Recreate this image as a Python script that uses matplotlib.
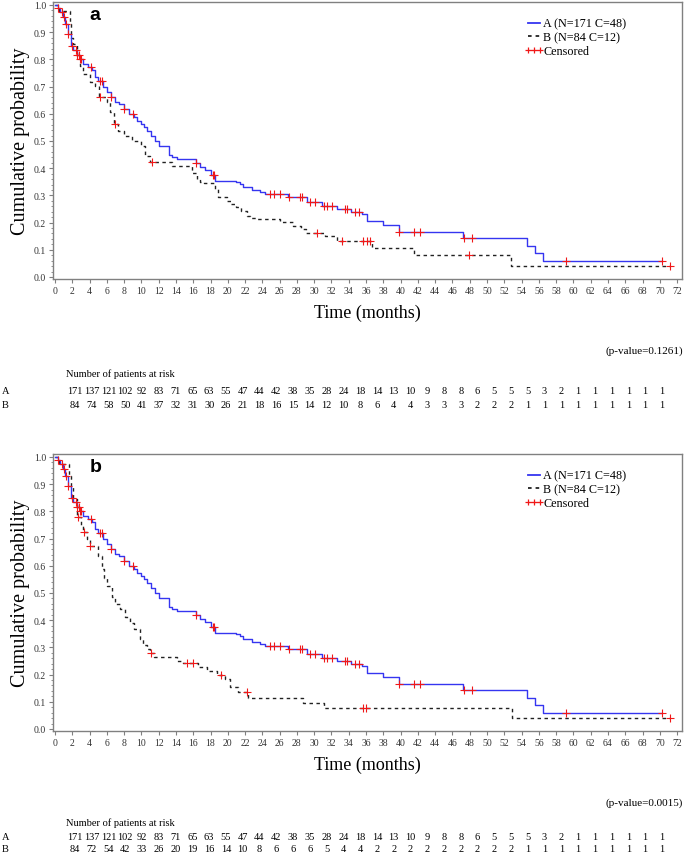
import matplotlib
matplotlib.use("Agg")
import matplotlib.pyplot as plt
from matplotlib.lines import Line2D
from matplotlib.legend_handler import HandlerLine2D
from matplotlib.ticker import MultipleLocator, FormatStrFormatter
import numpy as np

# Kaplan-Meier step curves (time in months, survival after step)
a_time = [0, 0.3, 0.6, 0.9, 1.2, 1.5, 1.8, 2.1, 2.5, 2.9, 3.3, 3.8, 4.3, 4.6, 5.0, 5.5, 6.0, 6.5, 7.0, 7.4,
          8.0, 8.6, 9.1, 9.5, 9.9, 10.3, 10.7, 11.1, 11.6, 12.0, 13.2, 13.6, 14.1, 16.3, 16.8, 17.4, 18.1, 18.5,
          20.9, 21.4, 21.8, 22.8, 23.7, 24.3, 27.0, 29.2, 30.9, 32.6, 34.3, 35.5, 36.1, 38.0, 39.8, 47.2,
          54.6, 55.6, 56.5, 70.3]
a_surv = [1.0, 0.99, 0.975, 0.955, 0.93, 0.893, 0.85, 0.835, 0.815, 0.80, 0.783, 0.772, 0.76, 0.734, 0.72,
          0.70, 0.679, 0.66, 0.645, 0.636, 0.618, 0.60, 0.587, 0.575, 0.563, 0.55, 0.538, 0.52, 0.50, 0.482,
          0.45, 0.44, 0.435, 0.42, 0.403, 0.392, 0.375, 0.352, 0.348, 0.342, 0.33, 0.32, 0.311, 0.305, 0.293,
          0.277, 0.26, 0.25, 0.24, 0.232, 0.207, 0.191, 0.164, 0.145, 0.115, 0.088, 0.06, 0.06]
a_cens = [0.3, 0.8, 1.0, 1.3, 1.5, 2.0, 2.4, 2.6, 2.8, 2.9, 3.0, 4.2, 5.2, 5.4, 6.5, 8.0, 9.0, 16.3, 18.3,
          18.4, 24.9, 25.4, 26.0, 27.1, 28.4, 28.6, 29.5, 30.1, 31.1, 31.5, 32.1, 33.6, 33.8, 34.7, 35.2,
          39.8, 41.6, 42.2, 47.3, 48.3, 59.2, 70.3]

# group B, panel a
ba_time = [0, 0.5, 1.75, 1.9, 2.1, 2.5, 2.9, 3.3, 4.0, 4.6, 5.1, 6.0, 6.4, 6.8, 7.3, 8.0, 8.9, 10.0, 10.4,
           11.0, 13.5, 15.9, 16.4, 16.8, 17.2, 18.5, 18.9, 19.9, 20.4, 21.0, 21.5, 22.2, 22.6, 23.4, 26.1,
           27.6, 28.5, 29.1, 31.2, 32.6, 36.7, 41.5, 52.8, 71.2]
ba_surv = [1.0, 0.979, 0.93, 0.88, 0.857, 0.808, 0.777, 0.746, 0.716, 0.703, 0.663, 0.643, 0.605, 0.562,
           0.537, 0.52, 0.50, 0.482, 0.445, 0.423, 0.408, 0.384, 0.36, 0.35, 0.345, 0.323, 0.293, 0.28,
           0.267, 0.256, 0.243, 0.225, 0.218, 0.212, 0.201, 0.188, 0.175, 0.163, 0.15, 0.134, 0.107, 0.081,
           0.042, 0.042]
ba_cens = [5.2, 6.9, 11.2, 30.3, 33.2, 35.7, 36.1, 36.5, 47.9, 71.2]

# group B, panel b
bb_time = [0, 0.5, 1.6, 1.8, 2.1, 2.5, 3.0, 3.3, 3.7, 4.05, 5.0, 5.4, 5.7, 6.0, 6.6, 7.0, 7.5, 8.1, 8.7,
           9.1, 9.8, 10.2, 10.6, 11.0, 11.5, 14.1, 14.8, 16.6, 17.6, 18.8, 19.7, 20.3, 21.2, 22.3, 28.7,
           31.1, 52.9, 71.2]
bb_surv = [1.0, 0.975, 0.93, 0.89, 0.846, 0.778, 0.75, 0.725, 0.70, 0.674, 0.637, 0.588, 0.555, 0.527,
           0.485, 0.46, 0.44, 0.41, 0.39, 0.368, 0.331, 0.31, 0.294, 0.28, 0.265, 0.251, 0.243, 0.227,
           0.214, 0.199, 0.184, 0.154, 0.135, 0.113, 0.096, 0.077, 0.04, 0.04]
bb_cens = [2.7, 3.35, 4.1, 11.1, 15.3, 16.0, 19.2, 22.2, 35.6, 36.0, 71.2]

# numbers at risk, every 2 months from 0 to 70
risk_a = [171, 137, 121, 102, 92, 83, 71, 65, 63, 55, 47, 44, 42, 38, 35, 28, 24, 18, 14, 13, 10, 9, 8, 8,
          6, 5, 5, 5, 3, 2, 1, 1, 1, 1, 1, 1]
risk_b_top = [84, 74, 58, 50, 41, 37, 32, 31, 30, 26, 21, 18, 16, 15, 14, 12, 10, 8, 6, 4, 4, 3, 3, 3, 2,
              2, 2, 1, 1, 1, 1, 1, 1, 1, 1, 1]
risk_b_bot = [84, 72, 54, 42, 33, 26, 20, 19, 16, 14, 10, 8, 6, 6, 6, 5, 4, 4, 2, 2, 2, 2, 2, 2, 2, 2, 2,
              1, 1, 1, 1, 1, 1, 1, 1, 1]

labels = ["A (N=171 C=48)", "B (N=84 C=12)", "Censored"]
p_values = ["(p-value=0.1261)", "(p-value=0.0015)"]

SERIF = "Liberation Serif"
BLUE = "#3535f0"
RED = "#f01818"
GREY = "#808080"
W, H = 685, 853


def step_value(times, surv, t):
    idx = np.searchsorted(times, t, side="right") - 1
    return np.asarray(surv)[idx]


def draw_panel(ax, b_time, b_surv, b_cens, letter):
    ax.plot(a_time, a_surv, drawstyle="steps-post", color=BLUE, lw=1.0, zorder=3)
    ax.plot(b_time, b_surv, drawstyle="steps-post", color="#222222", lw=1.0,
            linestyle=(0, (2.5, 2.5)), zorder=2)
    ax.plot(a_cens, step_value(a_time, a_surv, a_cens), "+", color=RED, ms=5.5, mew=0.8, zorder=4)
    ax.plot(b_cens, step_value(b_time, b_surv, b_cens), "+", color=RED, ms=5.5, mew=0.8, zorder=4)

    ax.set_xlim(-0.23, 72.57)
    ax.set_ylim(-0.0074, 1.011)
    ax.xaxis.set_major_locator(MultipleLocator(2))
    ax.yaxis.set_major_locator(MultipleLocator(0.1))
    ax.yaxis.set_minor_locator(MultipleLocator(0.02))
    ax.yaxis.set_major_formatter(FormatStrFormatter("%.1f"))
    ax.tick_params(which="major", length=3, width=0.8, color=GREY, labelsize=7, pad=2)
    ax.tick_params(which="minor", length=1.5, width=0.6, color=GREY)
    for lab in ax.get_xticklabels() + ax.get_yticklabels():
        lab.set_fontfamily(SERIF)
        lab.set_color("#333333")
    for sp in ax.spines.values():
        sp.set_color(GREY)
        sp.set_linewidth(1.0)

    ax.set_xlabel("Time (months)", fontsize=13, family=SERIF, labelpad=6)
    ax.set_ylabel("Cumulative probability", fontsize=14.5, family=SERIF, labelpad=3)
    ax.text(0.067, 0.955, letter, transform=ax.transAxes, fontsize=14, fontweight="bold",
            family="Liberation Sans", ha="center", va="center")

    h_a = Line2D([], [], color=BLUE, lw=1.3)
    h_b = Line2D([], [], color="#222222", lw=1.3, linestyle=(0, (2.0, 2.2)))
    h_c = Line2D([], [], color=RED, lw=0.8, marker="+", ms=5, mew=0.9)
    ax.legend([h_a, h_b, h_c], labels, loc="upper left", bbox_to_anchor=(0.745, 0.965), frameon=False,
              prop={"family": SERIF, "size": 8.7}, handlelength=1.0, handletextpad=0.3,
              labelspacing=0.15, borderpad=0, numpoints=1,
              handler_map={h_c: HandlerLine2D(numpoints=3, marker_pad=0)})


fig = plt.figure(figsize=(W / 100, H / 100), dpi=100)

panels = [
    # axes top/bottom in pixels, data for B, letter, p-value, risk rows, text rows (pixels)
    dict(top=3, bottom=280, bt=ba_time, bs=ba_surv, bc=ba_cens, letter="a", p=p_values[0],
         risk_b=risk_b_top, y_p=351, y_n=374, y_a=392, y_b=406),
    dict(top=455, bottom=732, bt=bb_time, bs=bb_surv, bc=bb_cens, letter="b", p=p_values[1],
         risk_b=risk_b_bot, y_p=803, y_n=823, y_a=838, y_b=850),
]

for pn in panels:
    ax = fig.add_axes([53 / W, 1 - pn["bottom"] / H, (682 - 53) / W, (pn["bottom"] - pn["top"]) / H])
    draw_panel(ax, pn["bt"], pn["bs"], pn["bc"], pn["letter"])

    fig.text(683 / W, 1 - pn["y_p"] / H, pn["p"], ha="right", va="center", fontsize=8, family=SERIF)
    fig.text(66 / W, 1 - pn["y_n"] / H, "Number of patients at risk", ha="left", va="center",
             fontsize=7.5, family=SERIF)
    for row_label, row, yy in [("A", risk_a, pn["y_a"]), ("B", pn["risk_b"], pn["y_b"])]:
        fig.text(2 / W, 1 - yy / H, row_label, ha="left", va="center", fontsize=7.5, family=SERIF)
        for i, n in enumerate(row):
            fig.text((75 + i * 16.77) / W, 1 - yy / H, str(n), ha="center", va="center",
                     fontsize=7.5, family=SERIF)

fig.savefig("out.png", dpi=100)
